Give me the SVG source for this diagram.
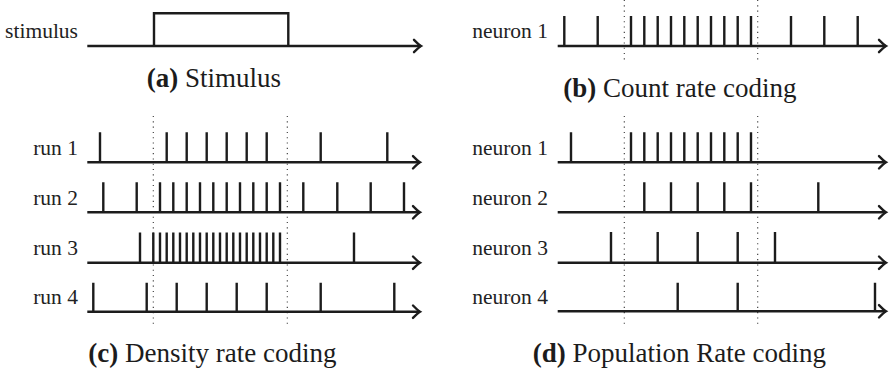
<svg xmlns="http://www.w3.org/2000/svg" width="896" height="373" viewBox="0 0 896 373">
<defs>
<style>
.axis{stroke:#1c1c1c;stroke-width:2.6;fill:none;marker-end:url(#arr)}
.sp{stroke:#1c1c1c;stroke-width:2.4;fill:none}
.dot{stroke:#333;stroke-width:1.1;stroke-dasharray:1.1 4.2;fill:none}
.lbl{font-family:"Liberation Serif","Times New Roman",serif;font-size:21.5px;fill:#222;text-anchor:end}
.cap{font-family:"Liberation Serif","Times New Roman",serif;font-size:27px;fill:#1c1c1c}
.cap .b{font-weight:bold}
</style>
<marker id="arr" markerUnits="userSpaceOnUse" viewBox="-9 -8 12 16" refX="0" refY="0" markerWidth="12" markerHeight="16" orient="auto" overflow="visible">
<path d="M-7,-6.2 Q-2,-1.2 0,0 Q-2,1.2 -7,6.2" fill="none" stroke="#1c1c1c" stroke-width="2.4" stroke-linecap="round"/>
</marker>
</defs>
<rect width="896" height="373" fill="#fff"/>

<g id="panel-a">
<text class="lbl" x="78" y="37.5">stimulus</text>
<path class="axis" d="M87.3,46 H421"/>
<path class="sp" d="M154,46 V13.3 H288.3 V46"/>
<text class="cap" x="146.7" y="86.7"><tspan class="b">(a)</tspan> Stimulus</text>
</g>

<g id="panel-b">
<path class="dot" d="M624.3,0 V62 M757.7,0 V62"/>
<text class="lbl" x="548" y="38.3">neuron 1</text>
<path class="axis" d="M557.7,46 H886"/>
<path class="sp" d="M564.3,46V16 M597.7,46V16 M631,46V16 M644.3,46V16 M657.7,46V16 M671,46V16 M684.3,46V16 M697.7,46V16 M711,46V16 M724.3,46V16 M737.7,46V16 M751,46V16 M791,46V16 M824.3,46V16 M857.7,46V16"/>
<text class="cap" x="563.3" y="96.7"><tspan class="b">(b)</tspan> Count rate coding</text>
</g>

<g id="panel-c">
<path class="dot" d="M153.3,116 V325 M287.3,116 V325"/>
<g id="run1">
<text class="lbl" x="78" y="155">run 1</text>
<path class="axis" d="M87.3,162.3 H420"/>
<path class="sp" d="M100,162.3V132.3 M166.7,162.3V132.3 M186.7,162.3V132.3 M206.7,162.3V132.3 M226.7,162.3V132.3 M246.7,162.3V132.3 M266.7,162.3V132.3 M320.7,162.3V132.3 M387.3,162.3V132.3"/>
</g>
<g id="run2">
<text class="lbl" x="78" y="204.5">run 2</text>
<path class="axis" d="M87.3,212.3 H420"/>
<path class="sp" d="M103.3,212.3V182.3 M136.7,212.3V182.3 M160,212.3V182.3 M173.3,212.3V182.3 M186.7,212.3V182.3 M200,212.3V182.3 M213.3,212.3V182.3 M226.7,212.3V182.3 M240,212.3V182.3 M253.3,212.3V182.3 M266.7,212.3V182.3 M280,212.3V182.3 M303.3,212.3V182.3 M337.3,212.3V182.3 M370.7,212.3V182.3 M404,212.3V182.3"/>
</g>
<g id="run3">
<text class="lbl" x="78" y="255">run 3</text>
<path class="axis" d="M87.3,262.7 H420"/>
<path class="sp" d="M140,262.7V232.5 M354,262.7V232.5"/>
<path class="sp" stroke-width="2.1" d="M153.3,262.7V232.5 M160,262.7V232.5 M166.7,262.7V232.5 M173.3,262.7V232.5 M180,262.7V232.5 M186.7,262.7V232.5 M193.3,262.7V232.5 M200,262.7V232.5 M206.7,262.7V232.5 M213.3,262.7V232.5 M220,262.7V232.5 M226.7,262.7V232.5 M233.3,262.7V232.5 M240,262.7V232.5 M246.7,262.7V232.5 M253.3,262.7V232.5 M260,262.7V232.5 M266.7,262.7V232.5 M273.3,262.7V232.5 M280,262.7V232.5"/>
</g>
<g id="run4">
<text class="lbl" x="78" y="304.3">run 4</text>
<path class="axis" d="M87.3,311.7 H420"/>
<path class="sp" d="M93.3,311.7V282.7 M146.7,311.7V282.7 M176.7,311.7V282.7 M206.7,311.7V282.7 M236.7,311.7V282.7 M266.7,311.7V282.7 M320.7,311.7V282.7 M394.3,311.7V282.7"/>
</g>
<text class="cap" x="88.3" y="362.3"><tspan class="b">(c)</tspan> Density rate coding</text>
</g>

<g id="panel-d">
<path class="dot" d="M624.3,116 V325 M757.7,116 V325"/>
<g id="neuron1">
<text class="lbl" x="548" y="154.5">neuron 1</text>
<path class="axis" d="M557.7,162.3 H886"/>
<path class="sp" d="M571,162.3V132.3 M631,162.3V132.3 M644.3,162.3V132.3 M657.7,162.3V132.3 M671,162.3V132.3 M684.3,162.3V132.3 M697.7,162.3V132.3 M711,162.3V132.3 M724.3,162.3V132.3 M737.7,162.3V132.3 M751,162.3V132.3"/>
</g>
<g id="neuron2">
<text class="lbl" x="548" y="204.5">neuron 2</text>
<path class="axis" d="M557.7,212.3 H886"/>
<path class="sp" d="M644.3,212.3V182.3 M671,212.3V182.3 M697.7,212.3V182.3 M724.3,212.3V182.3 M751,212.3V182.3 M818.3,212.3V182.3"/>
</g>
<g id="neuron3">
<text class="lbl" x="548" y="255">neuron 3</text>
<path class="axis" d="M557.7,262.7 H886"/>
<path class="sp" d="M611,262.7V232 M657.7,262.7V232 M697.7,262.7V232 M737.7,262.7V232 M775,262.7V232"/>
</g>
<g id="neuron4">
<text class="lbl" x="548" y="304.3">neuron 4</text>
<path class="axis" d="M557.7,311.3 H886"/>
<path class="sp" d="M677.7,311.3V282.7 M737.7,311.3V282.7 M875,311.3V282.7"/>
</g>
<text class="cap" x="532.7" y="362.3"><tspan class="b">(d)</tspan> Population Rate coding</text>
</g>
</svg>
